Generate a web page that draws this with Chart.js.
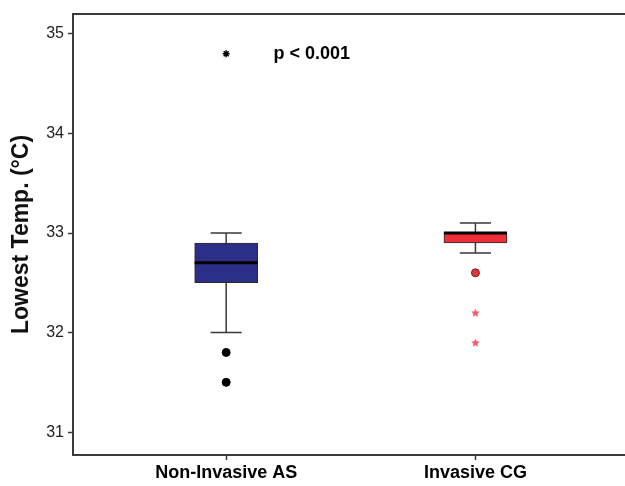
<!DOCTYPE html>
<html>
  <head>
    <meta charset="UTF-8" />
    <title>Lowest Temp. box plot</title>
    <style>
      html,
      body {
        margin: 0;
        padding: 0;
        width: 625px;
        height: 486px;
        background: #fff;
      }
      .chart-container {
        width: 625px;
        height: 486px;
        position: relative;
      }
    </style>
    <script src="https://cdn.jsdelivr.net/npm/chart.js"></script>
  </head>
  <body>
    <div class="chart-container">
      <canvas id="chart"></canvas>
    </div>
    <script>
      // data
      const categories = ["Non-Invasive AS", "Invasive CG"];
      const groupPos = [1, 2];
      const whiskerLow = [32.0, 32.8];
      const q1 = [32.5, 32.9];
      const medians = [32.7, 33.0];
      const q3 = [32.9, 33.0];
      const whiskerHigh = [33.0, 33.1];
      const circleOutliers = [[31.8, 31.5], [32.6]];
      const starOutliers = [[34.8], [32.2, 31.9]];
      const yTicks = [31, 32, 33, 34, 35];
      const pLabel = "p < 0.001";

      const fillColors = ["#2b2f87", "#ee2f38"];
      const circleColors = ["#000000", "#e2323a"];
      const starColors = ["#000000", "#f25866"];
      const boxHalf = 0.1265;
      const capHalf = 0.0625;
      const fontFam = "'Liberation Sans', Arial, sans-serif";

      // small filled 5-point star used as point style
      function starImage(color, size) {
        const c = document.createElement("canvas");
        c.width = size;
        c.height = size;
        const g = c.getContext("2d");
        const r = size / 2;
        g.fillStyle = color;
        g.beginPath();
        for (let k = 0; k < 10; k++) {
          const rad = k % 2 === 0 ? r : r * 0.45;
          const a = -Math.PI / 2 + (k * Math.PI) / 5;
          g.lineTo(r + rad * Math.cos(a), r + 0.5 + rad * Math.sin(a));
        }
        g.closePath();
        g.fill();
        return c;
      }

      // whisker segments with null gaps
      const whiskerPts = [];
      const medianPts = [];
      groupPos.forEach((x, i) => {
        whiskerPts.push({ x: x, y: q3[i] }, { x: x, y: whiskerHigh[i] }, { x: x, y: null });
        whiskerPts.push({ x: x - capHalf, y: whiskerHigh[i] }, { x: x + capHalf, y: whiskerHigh[i] }, { x: x, y: null });
        whiskerPts.push({ x: x, y: q1[i] }, { x: x, y: whiskerLow[i] }, { x: x, y: null });
        whiskerPts.push({ x: x - capHalf, y: whiskerLow[i] }, { x: x + capHalf, y: whiskerLow[i] }, { x: x, y: null });
        medianPts.push({ x: x - boxHalf, y: medians[i] }, { x: x + boxHalf, y: medians[i] }, { x: x, y: null });
      });

      const datasets = [
        {
          type: "line",
          data: whiskerPts,
          borderColor: "#3a3a3a",
          borderWidth: 1.5,
          pointRadius: 0,
          spanGaps: false,
          order: 3,
        },
        {
          type: "bar",
          data: groupPos.map((x, i) => ({ x: x, y: [q1[i], q3[i]] })),
          backgroundColor: fillColors,
          borderColor: "#2a2a2a",
          borderWidth: 1,
          borderSkipped: false,
          barThickness: 63,
          order: 2,
        },
        {
          type: "line",
          data: medianPts,
          borderColor: "#000000",
          borderWidth: 3,
          pointRadius: 0,
          spanGaps: false,
          order: 1,
        },
      ];
      groupPos.forEach((x, i) => {
        datasets.push({
          type: "scatter",
          data: circleOutliers[i].map((v) => ({ x: x, y: v })),
          pointStyle: "circle",
          pointRadius: 4,
          backgroundColor: circleColors[i],
          borderColor: i === 0 ? "#000000" : "#7a1a1a",
          borderWidth: 1,
          order: 0,
        });
        datasets.push({
          type: "scatter",
          data: starOutliers[i].map((v) => ({ x: x, y: v })),
          pointStyle: i === 0 ? "star" : starImage(starColors[i], 9),
          pointRadius: 3.5,
          borderColor: starColors[i],
          borderWidth: 1.5,
          order: 0,
        });
      });

      const frame = {
        id: "frame",
        afterDraw(chart) {
          const { ctx, chartArea, scales } = chart;
          ctx.save();
          ctx.strokeStyle = "#3a3a3a";
          ctx.lineWidth = 2;
          ctx.beginPath();
          ctx.moveTo(chartArea.left - 1, chartArea.top);
          ctx.lineTo(chart.width, chartArea.top);
          ctx.moveTo(chartArea.left - 1, chartArea.bottom);
          ctx.lineTo(chart.width, chartArea.bottom);
          ctx.stroke();
          ctx.fillStyle = "#000";
          ctx.font = "bold 18px " + fontFam;
          ctx.textBaseline = "middle";
          ctx.fillText(pLabel, scales.x.getPixelForValue(1.19), scales.y.getPixelForValue(34.8));
          ctx.restore();
        },
      };

      new Chart(document.getElementById("chart"), {
        data: { datasets: datasets },
        plugins: [frame],
        options: {
          responsive: true,
          maintainAspectRatio: false,
          animation: false,
          layout: { padding: { top: 14, right: 0, left: 0, bottom: 0 } },
          plugins: {
            legend: { display: false },
            tooltip: { enabled: false },
          },
          scales: {
            x: {
              type: "linear",
              offset: false,
              min: 0.3855,
              max: 2.578,
              afterBuildTicks: (axis) => {
                axis.ticks = groupPos.map((v) => ({ value: v }));
              },
              afterFit: (axis) => {
                axis.height = 31;
              },
              ticks: {
                callback: (v) => categories[groupPos.indexOf(v)],
                color: "#000",
                font: { family: fontFam, size: 18, weight: "bold" },
                padding: 2,
                maxRotation: 0,
              },
              grid: { offset: false, drawOnChartArea: false, tickLength: 5, tickColor: "#3a3a3a", tickWidth: 1.5 },
              border: { display: false },
            },
            y: {
              min: 30.77,
              max: 35.2,
              afterBuildTicks: (axis) => {
                axis.ticks = yTicks.map((v) => ({ value: v }));
              },
              afterFit: (axis) => {
                axis.width = 73;
              },
              ticks: {
                color: "#222",
                font: { family: fontFam, size: 16 },
                padding: 4,
              },
              title: {
                display: true,
                text: "Lowest Temp. (°C)",
                color: "#111",
                font: { family: fontFam, size: 23, weight: "bold" },
                padding: { top: 8, bottom: 6 },
              },
              grid: { drawOnChartArea: false, tickLength: 5, tickColor: "#3a3a3a", tickWidth: 1.5 },
              border: { color: "#3a3a3a", width: 2 },
            },
          },
        },
      });
    </script>
  </body>
</html>
